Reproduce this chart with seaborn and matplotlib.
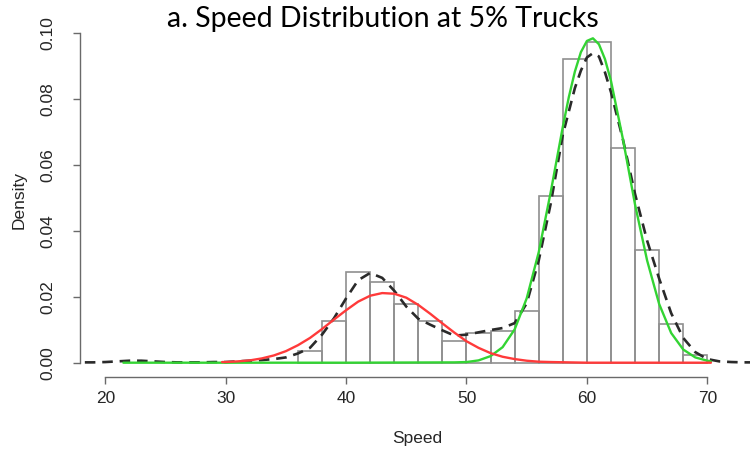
import numpy as np
import pandas as pd
import matplotlib
matplotlib.use("Agg")
import matplotlib.pyplot as plt
import seaborn as sns

# Histogram of observed speeds (density per 2 mph bin)
bin_edges = [36, 38, 40, 42, 44, 46, 48, 50, 52, 54, 56, 58, 60, 62, 64, 66, 68, 70]
bin_density = [0.0036, 0.0127, 0.0274, 0.0245, 0.0178, 0.0125, 0.0065, 0.0090,
               0.0095, 0.0157, 0.0504, 0.0921, 0.0972, 0.0652, 0.0342, 0.0118, 0.0023]

# Kernel density estimate of the speeds (dashed)
kde_speed = [18.3, 19, 20, 21, 22, 23, 24, 25, 26, 27, 28, 29, 30, 31, 32, 33, 34, 35,
             36, 37, 38, 39, 40, 41, 42, 43, 44, 45, 46, 47, 48, 49, 50, 51, 52, 53,
             54, 55, 56, 57, 58, 59, 59.5, 60, 60.5, 61, 61.5, 62, 63, 64, 65, 66,
             67, 68, 69, 70, 71, 72, 73, 74]
kde_density = [0.0001, 0.0001, 0.0002, 0.0004, 0.0006, 0.0006, 0.0004, 0.0002, 0.0001,
               0.0001, 0.0001, 0.0002, 0.0002, 0.0004, 0.0006, 0.0008, 0.0011, 0.0016,
               0.0028, 0.0045, 0.0085, 0.0135, 0.0195, 0.0250, 0.0272, 0.0257, 0.0218,
               0.0170, 0.0133, 0.0115, 0.0098, 0.0082, 0.0085, 0.0092, 0.0099, 0.0105,
               0.0120, 0.0180, 0.0310, 0.0483, 0.0691, 0.0832, 0.0885, 0.0925, 0.0938,
               0.0928, 0.0880, 0.0820, 0.0675, 0.0511, 0.0370, 0.0255, 0.0150, 0.0075,
               0.0032, 0.0011, 0.0004, 0.0002, 0.0001, 0.0001]

# Mixture component for free-flow (cars) traffic, green
car_speed = [21.5, 30, 40, 49, 50, 51, 52, 53, 54, 55, 56, 57, 58, 58.5, 59, 59.5, 60,
             60.5, 61, 61.5, 62, 63, 64, 65, 66, 67, 68, 69, 70, 70.3]
car_density = [0.0, 0.0, 0.0, 0.0001, 0.0002, 0.0007, 0.0020, 0.0047, 0.0101, 0.0195,
               0.0335, 0.0518, 0.0715, 0.0805, 0.0882, 0.0941, 0.0975, 0.0983, 0.0965,
               0.0920, 0.0854, 0.0676, 0.0479, 0.0310, 0.0178, 0.0090, 0.0040, 0.0016,
               0.0006, 0.0004]

# Mixture component for the slower (truck-affected) group, red
slow_speed = [29.7, 30, 31, 32, 33, 34, 35, 36, 37, 38, 39, 40, 41, 42, 43, 44, 45, 46,
              47, 48, 49, 50, 51, 52, 53, 54, 55, 56, 57, 60, 65, 70.3]
slow_density = [0.0002, 0.0002, 0.0004, 0.0007, 0.0013, 0.0022, 0.0035, 0.0053, 0.0075,
                0.0102, 0.0131, 0.0159, 0.0185, 0.0203, 0.0211, 0.0209, 0.0197, 0.0175,
                0.0148, 0.0119, 0.0091, 0.0065, 0.0045, 0.0029, 0.0018, 0.0011, 0.0006,
                0.0003, 0.0002, 0.0, 0.0, 0.0]

x_ticks = [20, 30, 40, 50, 60, 70]
y_ticks = [0.00, 0.02, 0.04, 0.06, 0.08, 0.10]

sns.set_theme(style="ticks")
plt.rcParams["font.family"] = ["Liberation Sans", "DejaVu Sans"]

W, H = 750, 454
fig = plt.figure(figsize=(W / 100, H / 100), dpi=100)

# plot region in pixels
px_left, px_right = 80.0, 750.0
px_bottom, px_top = 376.7, 20.0
ax = fig.add_axes([px_left / W, 1 - px_bottom / H,
                   (px_right - px_left) / W, (px_bottom - px_top) / H])

centers = [(a + b) / 2 for a, b in zip(bin_edges[:-1], bin_edges[1:])]
hist_df = pd.DataFrame({"speed": centers, "density": bin_density})
sns.histplot(data=hist_df, x="speed", weights="density", bins=bin_edges,
             stat="count", fill=False, color="#8f8f8f", linewidth=1.2, ax=ax)

kde_df = pd.DataFrame({"speed": kde_speed, "density": kde_density})
sns.lineplot(data=kde_df, x="speed", y="density", ax=ax, color="#2a2a2a",
             linewidth=1.9, linestyle=(0, (4, 2.6)), sort=False)

car_df = pd.DataFrame({"speed": car_speed, "density": car_density})
sns.lineplot(data=car_df, x="speed", y="density", ax=ax, color="#33d433",
             linewidth=1.7, sort=False)

slow_df = pd.DataFrame({"speed": slow_speed, "density": slow_density})
sns.lineplot(data=slow_df, x="speed", y="density", ax=ax, color="#ff3a3a",
             linewidth=1.7, sort=False)

# data <-> pixel calibration: 20 -> 105.3 px, 12.04 px per mph; 0 -> 362.7 px, 3300 px per unit
x0_px, x_scale = 105.3, 12.04
y0_px, y_scale = 362.7, 3300.0
ax.set_xlim(20 + (px_left - x0_px) / x_scale, 20 + (px_right - x0_px) / x_scale)
ax.set_ylim((y0_px - px_bottom) / y_scale, (y0_px - px_top) / y_scale)

for side in ("top", "right"):
    ax.spines[side].set_visible(False)
ax.spines["left"].set_bounds(0.0, 0.10)
ax.spines["bottom"].set_bounds(20, 70)
for side in ("left", "bottom"):
    ax.spines[side].set_color("#6a6a6a")
    ax.spines[side].set_linewidth(1.0)

ax.set_xticks(x_ticks)
ax.set_xticklabels([str(v) for v in x_ticks])
ax.set_yticks(y_ticks)
ax.set_yticklabels([f"{v:.2f}" for v in y_ticks], rotation=90, va="center")
ax.tick_params(axis="both", direction="out", length=5, width=1.0,
               color="#6a6a6a", labelcolor="#262626", labelsize=12.5)
ax.tick_params(axis="x", pad=5.5)
ax.tick_params(axis="y", pad=13)

ax.set_xlabel("Speed", fontsize=12.5, color="#262626")
ax.set_ylabel("Density", fontsize=12.5, color="#262626")
ax.xaxis.set_label_coords((417 - px_left) / (px_right - px_left),
                          (px_bottom - 438) / (px_bottom - px_top))
ax.xaxis.label.set_verticalalignment("center")
ax.yaxis.set_label_coords((19 - px_left) / (px_right - px_left),
                          (px_bottom - 200) / (px_bottom - px_top))
ax.yaxis.label.set_verticalalignment("center")

fig.text(383 / W, 1 - 19 / H, "a. Speed Distribution at 5% Trucks",
         ha="center", va="center", fontsize=20.5, color="black", family="Lato")

fig.savefig("out.png", dpi=100, facecolor="white")
